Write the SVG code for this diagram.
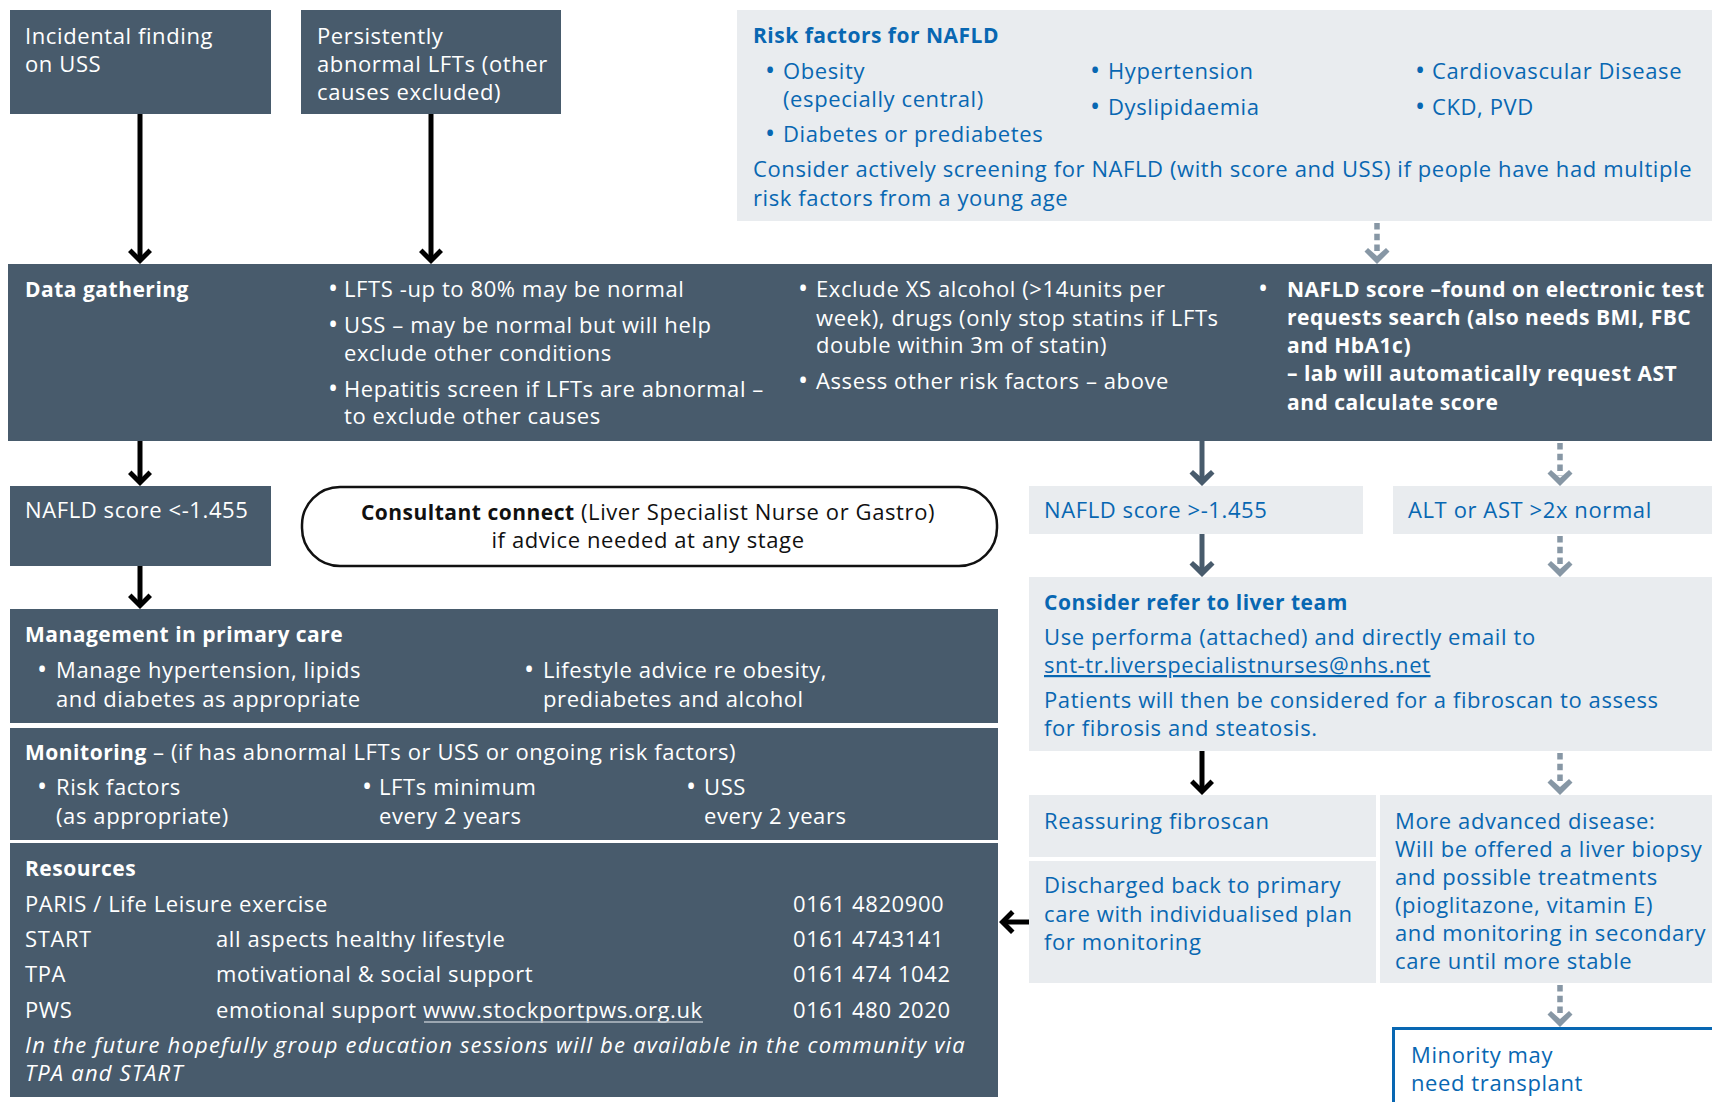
<svg xmlns="http://www.w3.org/2000/svg" xmlns:xlink="http://www.w3.org/1999/xlink" width="1712" height="1102" viewBox="0 0 1712 1102">
  <style>
    text { font-family: "Open Sans", "Noto Sans", "Liberation Sans", sans-serif; font-size: 22px; letter-spacing: 0.6px; }
    .w { fill: #ffffff; }
    .b { fill: #0867b2; }
    .k { fill: #111111; }
    .bd { font-weight: 700; font-size: 21px; letter-spacing: 0.5px; }
    .it { font-style: italic; letter-spacing: 1.2px; }
    .bu { font-size: 27px; }
    .dark { fill: #485b6c; }
    .light { fill: #e9ecef; }
    .shaft { stroke: #000; stroke-width: 5; }
    .shaftS { stroke: #485b6c; stroke-width: 5; }
    .dash { stroke: #8797a5; stroke-width: 5.5; stroke-dasharray: 6.5 4.3; }
  </style>
  <defs>
    <!-- chevron arrowhead, tip at origin pointing down -->
    <path id="hd" d="M0,0 L-12,-12 L-8.5,-15.5 L0,-7 L8.5,-15.5 L12,-12 Z"/>
    <path id="hdF" d="M0,0 L-12.5,-12.5 L-9,-16 L0,-8 L9,-16 L12.5,-12.5 Z"/>
  </defs>

  <!-- entry points -->
  <g id="node-incidental">
    <rect class="dark" x="10" y="10" width="261" height="104"/>
    <text class="w" x="25" y="44">Incidental finding</text>
    <text class="w" x="25" y="72">on USS</text>
  </g>
  <g id="node-persistent">
    <rect class="dark" x="301" y="10" width="260" height="104"/>
    <text class="w" x="317" y="44">Persistently</text>
    <text class="w" x="317" y="72">abnormal LFTs (other</text>
    <text class="w" x="317" y="100">causes excluded)</text>
  </g>

  <!-- risk factors panel -->
  <g id="node-risk">
    <rect class="light" x="737" y="10" width="975" height="211"/>
    <text class="b bd" x="753" y="43">Risk factors for NAFLD</text>
    <text class="b bu" x="765" y="80">•</text><text class="b" x="783" y="79">Obesity</text>
    <text class="b" x="783" y="107">(especially central)</text>
    <text class="b bu" x="765" y="143">•</text><text class="b" x="783" y="142">Diabetes or prediabetes</text>
    <text class="b bu" x="1090" y="80">•</text><text class="b" x="1108" y="79">Hypertension</text>
    <text class="b bu" x="1090" y="116">•</text><text class="b" x="1108" y="115">Dyslipidaemia</text>
    <text class="b bu" x="1415" y="80">•</text><text class="b" x="1432" y="79">Cardiovascular Disease</text>
    <text class="b bu" x="1415" y="116">•</text><text class="b" x="1432" y="115">CKD, PVD</text>
    <text class="b" x="753" y="177">Consider actively screening for NAFLD (with score and USS) if people have had multiple</text>
    <text class="b" x="753" y="206">risk factors from a young age</text>
  </g>

  <!-- data gathering band -->
  <g id="node-data">
    <rect class="dark" x="8" y="264" width="1704" height="177"/>
    <text class="w bd" x="25" y="297">Data gathering</text>
    <text class="w bu" x="328" y="298">•</text><text class="w" x="344" y="297">LFTS -up to 80% may be normal</text>
    <text class="w bu" x="328" y="334">•</text><text class="w" x="344" y="333">USS – may be normal but will help</text>
    <text class="w" x="344" y="361">exclude other conditions</text>
    <text class="w bu" x="328" y="398">•</text><text class="w" x="344" y="397">Hepatitis screen if LFTs are abnormal –</text>
    <text class="w" x="344" y="424">to exclude other causes</text>
    <text class="w bu" x="798" y="298">•</text><text class="w" x="816" y="297">Exclude XS alcohol (&gt;14units per</text>
    <text class="w" x="816" y="326">week), drugs (only stop statins if LFTs</text>
    <text class="w" x="816" y="353">double within 3m of statin)</text>
    <text class="w bu" x="798" y="390">•</text><text class="w" x="816" y="389">Assess other risk factors – above</text>
    <text class="w bu" x="1258" y="298">•</text><text class="w bd" x="1287" y="297">NAFLD score –found on electronic test</text>
    <text class="w bd" x="1287" y="325">requests search (also needs BMI, FBC</text>
    <text class="w bd" x="1287" y="353">and HbA1c)</text>
    <text class="w bd" x="1287" y="381">– lab will automatically request AST</text>
    <text class="w bd" x="1287" y="410">and calculate score</text>
  </g>

  <g id="node-low-score">
    <rect class="dark" x="10" y="486" width="261" height="80"/>
    <text class="w" x="25" y="518">NAFLD score &lt;-1.455</text>
  </g>

  <g id="node-consultant">
    <rect x="302" y="487" width="695" height="79" rx="38" ry="38" fill="#ffffff" stroke="#111" stroke-width="2.5"/>
    <text class="k" x="648" y="520" text-anchor="middle"><tspan class="bd">Consultant connect</tspan> (Liver Specialist Nurse or Gastro)</text>
    <text class="k" x="648" y="548" text-anchor="middle">if advice needed at any stage</text>
  </g>

  <g id="node-management">
    <rect class="dark" x="10" y="609" width="988" height="114"/>
    <text class="w bd" x="25" y="642">Management in primary care</text>
    <text class="w bu" x="37" y="679">•</text><text class="w" x="56" y="678">Manage hypertension, lipids</text>
    <text class="w" x="56" y="707">and diabetes as appropriate</text>
    <text class="w bu" x="524" y="679">•</text><text class="w" x="543" y="678">Lifestyle advice re obesity,</text>
    <text class="w" x="543" y="707">prediabetes and alcohol</text>
  </g>

  <g id="node-monitoring">
    <rect class="dark" x="10" y="728" width="988" height="112"/>
    <text class="w" x="25" y="760"><tspan class="bd">Monitoring</tspan> – (if has abnormal LFTs or USS or ongoing risk factors)</text>
    <text class="w bu" x="37" y="796">•</text><text class="w" x="56" y="795">Risk factors</text>
    <text class="w" x="56" y="824">(as appropriate)</text>
    <text class="w bu" x="362" y="796">•</text><text class="w" x="379" y="795">LFTs minimum</text>
    <text class="w" x="379" y="824">every 2 years</text>
    <text class="w bu" x="686" y="796">•</text><text class="w" x="704" y="795">USS</text>
    <text class="w" x="704" y="824">every 2 years</text>
  </g>

  <g id="node-resources">
    <rect class="dark" x="10" y="843" width="988" height="254"/>
    <text class="w bd" x="25" y="876">Resources</text>
    <text class="w" x="25" y="912">PARIS / Life Leisure exercise</text>
    <text class="w" x="793" y="912">0161 4820900</text>
    <text class="w" x="25" y="947">START</text>
    <text class="w" x="216" y="947">all aspects healthy lifestyle</text>
    <text class="w" x="793" y="947">0161 4743141</text>
    <text class="w" x="25" y="982">TPA</text>
    <text class="w" x="216" y="982">motivational &amp; social support</text>
    <text class="w" x="793" y="982">0161 474 1042</text>
    <text class="w" x="25" y="1018">PWS</text>
    <text class="w" x="216" y="1018">emotional support www.stockportpws.org.uk</text>
    <line x1="424" y1="1022" x2="703" y2="1022" stroke="#b8c1c9" stroke-width="1.5"/>
    <text class="w" x="793" y="1018">0161 480 2020</text>
    <text class="w it" x="25" y="1053">In the future hopefully group education sessions will be available in the community via</text>
    <text class="w it" x="25" y="1081">TPA and START</text>
  </g>

  <g id="node-high-score">
    <rect class="light" x="1029" y="486" width="334" height="48"/>
    <text class="b" x="1044" y="518">NAFLD score &gt;-1.455</text>
  </g>
  <g id="node-alt">
    <rect class="light" x="1393" y="486" width="319" height="48"/>
    <text class="b" x="1408" y="518">ALT or AST &gt;2x normal</text>
  </g>

  <g id="node-refer">
    <rect class="light" x="1029" y="577" width="683" height="174"/>
    <text class="b bd" x="1044" y="610">Consider refer to liver team</text>
    <text class="b" x="1044" y="645">Use performa (attached) and directly email to</text>
    <text class="b" x="1044" y="673" text-decoration="underline">snt-tr.liverspecialistnurses@nhs.net</text>
    <text class="b" x="1044" y="708">Patients will then be considered for a fibroscan to assess</text>
    <text class="b" x="1044" y="736">for fibrosis and steatosis.</text>
  </g>

  <g id="node-reassuring">
    <rect class="light" x="1029" y="795" width="347" height="62"/>
    <text class="b" x="1044" y="829">Reassuring fibroscan</text>
  </g>
  <g id="node-discharged">
    <rect class="light" x="1029" y="861" width="347" height="122"/>
    <text class="b" x="1044" y="893">Discharged back to primary</text>
    <text class="b" x="1044" y="922">care with individualised plan</text>
    <text class="b" x="1044" y="950">for monitoring</text>
  </g>
  <g id="node-advanced">
    <rect class="light" x="1380" y="795" width="332" height="188"/>
    <text class="b" x="1395" y="829">More advanced disease:</text>
    <text class="b" x="1395" y="857">Will be offered a liver biopsy</text>
    <text class="b" x="1395" y="885">and possible treatments</text>
    <text class="b" x="1395" y="913">(pioglitazone, vitamin E)</text>
    <text class="b" x="1395" y="941">and monitoring in secondary</text>
    <text class="b" x="1395" y="969">care until more stable</text>
  </g>
  <g id="node-transplant">
    <rect x="1393.5" y="1028.5" width="340" height="100" fill="#ffffff" stroke="#0867b2" stroke-width="3"/>
    <text class="b" x="1411" y="1063">Minority may</text>
    <text class="b" x="1411" y="1091">need transplant</text>
  </g>

  <!-- connectors -->
  <g id="connectors">
    <line class="shaft" x1="140" y1="114" x2="140" y2="257"/>
    <use xlink:href="#hd" x="140" y="264"/>
    <line class="shaft" x1="431" y1="114" x2="431" y2="257"/>
    <use xlink:href="#hd" x="431" y="264"/>

    <line class="dash" x1="1377" y1="223" x2="1377" y2="254"/>
    <use xlink:href="#hdF" x="1377" y="264" fill="#8797a5"/>

    <line class="shaft" x1="140" y1="441" x2="140" y2="479"/>
    <use xlink:href="#hd" x="140" y="486"/>
    <line class="shaft" x1="140" y1="566" x2="140" y2="602"/>
    <use xlink:href="#hd" x="140" y="609"/>

    <line class="shaftS" x1="1202" y1="441" x2="1202" y2="479"/>
    <use xlink:href="#hdF" x="1202" y="486" fill="#485b6c"/>
    <line class="shaftS" x1="1202" y1="534" x2="1202" y2="570"/>
    <use xlink:href="#hdF" x="1202" y="577" fill="#485b6c"/>

    <line class="dash" x1="1560" y1="443" x2="1560" y2="476"/>
    <use xlink:href="#hdF" x="1560" y="486" fill="#8797a5"/>
    <line class="dash" x1="1560" y1="536" x2="1560" y2="567"/>
    <use xlink:href="#hdF" x="1560" y="577" fill="#8797a5"/>

    <line class="shaft" x1="1202" y1="751" x2="1202" y2="788"/>
    <use xlink:href="#hd" x="1202" y="795"/>
    <line class="dash" x1="1560" y1="753" x2="1560" y2="785"/>
    <use xlink:href="#hdF" x="1560" y="795" fill="#8797a5"/>

    <line class="dash" x1="1560" y1="985" x2="1560" y2="1017"/>
    <use xlink:href="#hdF" x="1560" y="1027" fill="#8797a5"/>

    <line class="shaft" x1="1029" y1="922" x2="1006" y2="922"/>
    <use xlink:href="#hd" transform="translate(999,922) rotate(90)"/>
  </g>
</svg>
